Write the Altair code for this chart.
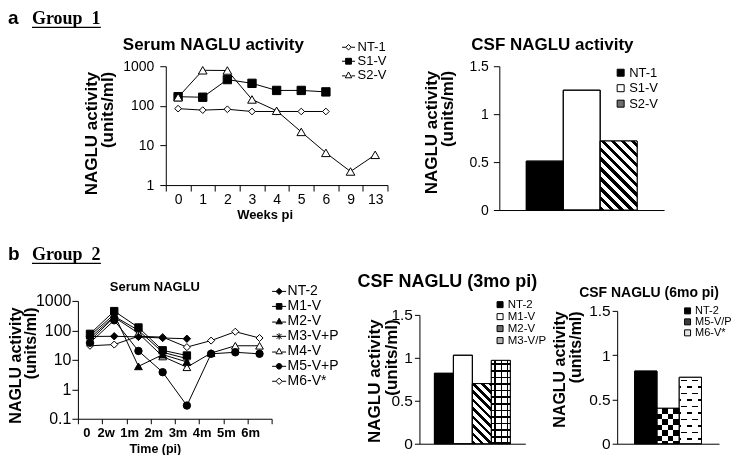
import math
import altair as alt
import pandas as pd

FONT = "Liberation Sans"
SERIF = "Liberation Serif"

# ---------------- data ----------------
weeks_a = ["0", "1", "2", "3", "4", "5", "6", "9", "13"]
series_a = ["NT-1", "S1-V", "S2-V"]
serum_nt1 = [85, 78, 82, 72, 72, 72, 72, None, None]
serum_s1v = [170, 165, 460, 370, 245, 245, 225, None, None]
serum_s2v = [165, 790, 780, 145, 75, 22, 6.5, 2.2, 5.8]

csf_a_series = ["NT-1", "S1-V", "S2-V"]
csf_a_values = [0.51, 1.25, 0.72]

times_b = ["0", "2w", "1m", "2m", "3m", "4m", "5m", "6m"]
series_b = ["NT-2", "M1-V", "M2-V", "M3-V+P", "M4-V", "M5-V+P", "M6-V*"]
serum_nt2 = [62, 63, 60, 55, 52, None, None, None]
serum_m1v = [76, 450, 125, 21, 14, None, None, None]
serum_m2v = [66, 350, 6, 15, 8.5, None, None, None]
serum_m3vp = [55, 300, 100, 18, 11, None, None, None]
serum_m4v = [45, 280, 80, 13, 5.6, 17, 30, 30]
serum_m5vp = [38, 220, 20, 3.8, 0.28, 16, 18, 16]
serum_m6v = [30, 33, 63, 59, 27, 45, 90, 55]

csf3_series = ["NT-2", "M1-V", "M2-V", "M3-V/P"]
csf3_values = [0.82, 1.03, 0.70, 0.97]
csf6_series = ["NT-2", "M5-V/P", "M6-V*"]
csf6_values = [0.82, 0.40, 0.75]


# ---------------- helpers ----------------
def long_df(xcats, names, values):
    rows = []
    for name, vals in zip(names, values):
        for i, (xc, v) in enumerate(zip(xcats, vals)):
            if v is not None:
                rows.append({"x": xc, "idx": i, "series": name, "value": v})
    return pd.DataFrame(rows)


def text_mark(txt, x, y, size, font=FONT, weight="bold", align="left", baseline="alphabetic"):
    return (alt.Chart(pd.DataFrame({"t": [txt]}))
            .mark_text(text=txt, font=font, fontSize=size, fontWeight=weight,
                       align=align, baseline=baseline, color="black")
            .encode(x=alt.value(x), y=alt.value(y)))


def underline(x1, x2, y):
    return (alt.Chart(pd.DataFrame({"t": [0]}))
            .mark_rule(color="black", strokeWidth=1.3)
            .encode(x=alt.value(x1), x2=alt.value(x2), y=alt.value(y)))


def stops(L, period, frac, dark, light, phase=0.0):
    out = []
    p = ((-phase) % period) - period
    while p < L:
        for s, e, c in ((p, p + frac * period, dark), (p + frac * period, p + period, light)):
            s2, e2 = max(s, 0.0), min(e, L)
            if e2 > s2:
                out.append({"offset": round(s2 / L, 5), "color": c})
                out.append({"offset": round(e2 / L, 5), "color": c})
        p += period
    return out


def grad(kind, w, h, period, frac, dark, light, phase=0.0):
    if kind == "h":
        L = h
        coords = dict(x1=0, y1=0, x2=0, y2=1)
    elif kind == "v":
        L = w
        coords = dict(x1=0, y1=0, x2=1, y2=0)
    else:
        L = (w + h) / math.sqrt(2)
        c = (w + h) / (w * w + h * h)
        coords = dict(x1=0, y1=1, x2=round(c * w, 5), y2=round(1 - c * h, 5))
    g = {"gradient": "linear", "stops": stops(L, period, frac, dark, light, phase)}
    g.update(coords)
    return g


def serum_panel(df, xcats, xrange, width, height, ydomain, xaxis, yaxis, styles,
                legend_series, legend_paths, legend_fills, legend, extras):
    X = alt.X("x:N", bandPosition=0.5,
              scale=alt.Scale(type="band", domain=xcats, range=xrange,
                              paddingInner=0, paddingOuter=0),
              axis=xaxis)
    Y = alt.Y("value:Q", scale=alt.Scale(type="log", domain=ydomain, nice=False), axis=yaxis)
    layers = [alt.Chart(df).mark_line(color="black", strokeWidth=1)
              .encode(x=X, y=Y, detail="series:N", order="idx:Q")]
    for name, (shape, fill, size) in styles:
        layers.append(alt.Chart(df).transform_filter(alt.datum.series == name)
                      .mark_point(shape=shape, filled=True, fill=fill, stroke="black",
                                  strokeWidth=1, size=size, opacity=1)
                      .encode(x=X, y=Y))
    n = len(legend_series)
    layers.append(alt.Chart(df).transform_filter("datum.value < 0")
                  .mark_point(filled=True, strokeWidth=1, opacity=1)
                  .encode(shape=alt.Shape("series:N", scale=alt.Scale(domain=legend_series, range=legend_paths),
                                          legend=legend),
                          fill=alt.Fill("series:N", scale=alt.Scale(domain=legend_series, range=legend_fills),
                                        legend=legend),
                          stroke=alt.Stroke("series:N", scale=alt.Scale(domain=legend_series, range=["black"] * n),
                                            legend=legend)))
    layers += extras
    return alt.layer(*layers).properties(width=width, height=height)


def bar_panel(series, values, base_fills, overlays, width, height, ytop, po, yaxis, legend, extras):
    df = pd.DataFrame({"series": series, "value": values})
    X = alt.X("series:N",
              scale=alt.Scale(type="band", domain=series, paddingInner=0, paddingOuter=po),
              axis=alt.Axis(labels=False, ticks=False, title=None))
    Y = alt.Y("value:Q", scale=alt.Scale(domain=[0, 1.5], range=[height, ytop], nice=False), axis=yaxis)
    layers = [alt.Chart(df).mark_bar(stroke="black", strokeWidth=1)
              .encode(x=X, y=Y,
                      fill=alt.Fill("series:N", scale=alt.Scale(domain=series, range=base_fills),
                                    legend=legend))]
    for name, g, blend in overlays:
        kw = dict(fill=g, strokeWidth=0)
        if blend:
            kw["blend"] = blend
        layers.append(alt.Chart(df).transform_filter(alt.datum.series == name)
                      .mark_bar(**kw).encode(x=X, y=Y))
    layers.append(alt.Chart(df).mark_bar(fillOpacity=0, stroke="black", strokeWidth=1).encode(x=X, y=Y))
    layers += extras
    return alt.layer(*layers).properties(width=width, height=height)


def y_title_axis(values, fmt, lsize, lpad, tsize, title, tsz, tx, ty, tlh):
    return alt.Axis(values=values, format=fmt, labelFontSize=lsize, labelPadding=lpad,
                    tickSize=tsize, title=title, titleFontSize=tsz, titleFontWeight="bold",
                    titleX=tx, titleY=ty, titleAlign="right", titleBaseline="top",
                    titleAngle=270, titleLineHeight=tlh, labelFlush=False,
                    labelOverlap=False, grid=False)


Y_TITLE = ["NAGLU activity", "(units/ml)"]

# ---------------- panel a : serum ----------------
df_a = long_df(weeks_a, series_a, [serum_nt1, serum_s1v, serum_s2v])
xaxis_a = alt.Axis(title="Weeks pi", labelAngle=0, labelFontSize=14, labelPadding=1, tickSize=6,
                   tickBand="extent", titleFontSize=13, titleFontWeight="bold", titleX=187,
                   titleY=33, titleBaseline="alphabetic", titleAlign="center",
                   labelFlush=False, labelOverlap=False, grid=False)
yaxis_a = y_title_axis([1, 10, 100, 1000], "~g", 14, 6, 6, Y_TITLE, 17, -82, 5, 16)
yaxis_a["offset"] = -88
styles_a = [("NT-1", ("diamond", "white", 45)),
            ("S1-V", ("square", "black", 70)),
            ("S2-V", ("triangle-up", "white", 75))]
paths_a = ["M-1,0H-0.42M0.42,0H1M-0.42,0L0,-0.42L0.42,0L0,0.42Z",
           "M-1,0H-0.45M0.45,0H1M-0.45,-0.45H0.45V0.45H-0.45Z",
           "M-1,0.1H-0.45M0.45,0.1H1M-0.5,0.4L0,-0.5L0.5,0.4Z"]
legend_a = alt.Legend(orient="none", legendX=264, legendY=-26, title=None, symbolSize=169,
                      labelFontSize=13, labelOffset=2, rowPadding=0, symbolStrokeColor="black",
                      symbolStrokeWidth=1, padding=0)
extras_a = [text_mark("Serum NAGLU activity", 45, -16, 17),
            text_mark("a", -70, -42.3, 19),
            text_mark("Group\u00a0\u00a01", -46, -42.3, 18, font=SERIF),
            underline(-46, 23, -39)]
serum_a = serum_panel(df_a, weeks_a, [88, 310], 310, 119, [1, 1000], xaxis_a, yaxis_a, styles_a,
                      series_a, paths_a, ["white", "black", "white"], legend_a, extras_a)

# ---------------- panel a : CSF ----------------
step_a = 165 / (3 + 2 * 0.73)
ov_a = [("S2-V", grad("d", step_a, 0.72 / 1.5 * 144, 7.0, 0.45, "black", "white"), None)]
legend_ca = alt.Legend(orient="none", legendX=115, legendY=0, title=None, symbolType="square",
                       symbolSize=49, labelFontSize=13, labelOffset=2, rowPadding=1.5,
                       symbolStrokeColor="black", symbolStrokeWidth=1, padding=0)
yaxis_ca = y_title_axis([0, 0.5, 1, 1.5], "~g", 14, 5, 6, Y_TITLE, 17, -76, 4, 16)
csf_a = bar_panel(csf_a_series, csf_a_values, ["black", "white", "#6e6e6e"], ov_a, 165, 144, 0, 0.73,
                  yaxis_ca, legend_ca, [text_mark("CSF NAGLU activity", -28, -16, 17)])

# ---------------- panel b : serum ----------------
df_b = long_df(times_b, series_b, [serum_nt2, serum_m1v, serum_m2v, serum_m3vp,
                                   serum_m4v, serum_m5vp, serum_m6v])
xaxis_b = alt.Axis(title="Time (pi)", labelAngle=0, labelFontSize=13, labelFontWeight="bold",
                   labelAlign="right", labelPadding=3, tickSize=5, tickBand="extent",
                   titleFontSize=12.5, titleFontWeight="bold", titleX=77, titleY=33.5,
                   titleBaseline="alphabetic", titleAlign="center",
                   labelFlush=False, labelOverlap=False, grid=False)
yaxis_b = y_title_axis([0.1, 1, 10, 100, 1000], "~g", 16, 1, 6, Y_TITLE, 16, -70, 6, 15)
AST = "M-1,0H1M0,-1V1M-0.7,-0.7L0.7,0.7M-0.7,0.7L0.7,-0.7"
styles_b = [("M6-V*", ("diamond", "white", 50)),
            ("M4-V", ("triangle-up", "white", 60)),
            ("M3-V+P", (AST, "black", 55)),
            ("M2-V", ("triangle-up", "black", 60)),
            ("M1-V", ("square", "black", 55)),
            ("M5-V+P", ("circle", "black", 55)),
            ("NT-2", ("diamond", "black", 55))]
paths_b = ["M-1,0H-0.45M0.45,0H1M-0.45,0L0,-0.45L0.45,0L0,0.45Z",
           "M-1,0H-0.4M0.4,0H1M-0.4,-0.4H0.4V0.4H-0.4Z",
           "M-1,0.1H-0.4M0.4,0.1H1M-0.45,0.35L0,-0.45L0.45,0.35Z",
           "M-1,0H1M0,-0.45V0.45M-0.35,-0.35L0.35,0.35M-0.35,0.35L0.35,-0.35",
           "M-1,0.1H-0.4M0.4,0.1H1M-0.45,0.35L0,-0.45L0.45,0.35Z",
           "M-1,0H-0.4M0.4,0H1M-0.4,0A0.4,0.4,0,1,1,0.4,0A0.4,0.4,0,1,1,-0.4,0Z",
           "M-1,0H-0.45M0.45,0H1M-0.45,0L0,-0.45L0.45,0L0,0.45Z"]
fills_b = ["black", "black", "black", "black", "white", "black", "white"]
legend_b = alt.Legend(orient="none", legendX=194, legendY=-17, title=None, symbolSize=196,
                      labelFontSize=14, labelOffset=1, rowPadding=0, symbolStrokeColor="black",
                      symbolStrokeWidth=1, padding=0)
extras_b = [text_mark("Serum NAGLU", 32, -10, 13),
            text_mark("b", -70, -41, 19),
            text_mark("Group\u00a0\u00a02", -46, -41, 18, font=SERIF),
            underline(-46, 23, -37.5)]
serum_b = serum_panel(df_b, times_b, [0, 194], 250, 118, [0.1, 1000], xaxis_b, yaxis_b, styles_b,
                      series_b, paths_b, fills_b, legend_b, extras_b)

# ---------------- panel b : CSF 3 months ----------------
H_B = 143
po3 = 0.79
w3 = 106 / (4 + 2 * po3)
k3 = (H_B - 14) / 1.5
ov_3 = [("M2-V", grad("d", w3, 0.70 * k3, 6.0, 0.45, "black", "white"), None),
        ("M3-V/P", grad("h", w3, 0.97 * k3, 6.6, 0.25, "black", "white", phase=-3), None),
        ("M3-V/P", grad("v", w3, 0.97 * k3, 6.3, 0.25, "black", "rgba(255,255,255,0)", phase=-3), None)]
legend_3 = alt.Legend(orient="none", legendX=75, legendY=-2, title=None, symbolType="square",
                      symbolSize=36, labelFontSize=11.5, labelOffset=2, rowPadding=-2,
                      symbolStrokeColor="black", symbolStrokeWidth=1, padding=0)
yaxis_3 = y_title_axis([0, 0.5, 1, 1.5], "~g", 15.5, 2, 5, Y_TITLE, 17, -53, 18, 17)
csf3 = bar_panel(csf3_series, csf3_values, ["black", "white", "#6e6e6e", "#b4b4b4"], ov_3, 106, H_B, 14,
                 po3, yaxis_3, legend_3, [text_mark("CSF NAGLU (3mo pi)", -62, -14, 18)])

# ---------------- panel b : CSF 6 months ----------------
po6 = 0.787
w6 = 102 / (3 + 2 * po6)
k6 = (H_B - 10) / 1.5
h5 = 0.40 * k6
h6 = 0.75 * k6
ov_6 = [("M5-V/P", grad("h", w6, h5, 11.0, 0.5, "black", "white"), None),
        ("M5-V/P", grad("v", w6, h5, 11.0, 0.5, "white", "black"), "difference"),
        # staggered dashes: checker mask, multiplied by thin lines, then inverted
        ("M6-V*", grad("h", w6, h6, 13.0, 0.5, "black", "white"), None),
        ("M6-V*", grad("v", w6, h6, 11.0, 0.5, "white", "black", phase=-2), "difference"),
        ("M6-V*", grad("h", w6, h6, 6.5, 0.24, "white", "black", phase=-2.5), "multiply"),
        ("M6-V*", "white", "difference")]
legend_6 = alt.Legend(orient="none", legendX=65, legendY=4.5, title=None, symbolType="square",
                      symbolSize=36, labelFontSize=11, labelOffset=2, rowPadding=-1,
                      symbolStrokeColor="black", symbolStrokeWidth=1, padding=0)
yaxis_6 = y_title_axis([0, 0.5, 1, 1.5], "~g", 15.5, 2, 5, Y_TITLE, 16, -66, 10, 16)
csf6 = bar_panel(csf6_series, csf6_values, ["black", "#3c3c3c", "#e6e6e6"], ov_6, 102, H_B, 10,
                 po6, yaxis_6, legend_6, [text_mark("CSF NAGLU (6mo pi)", -38, -4, 14)])

# ---------------- layout ----------------
row_a = alt.hconcat(serum_a, csf_a, spacing=112, bounds="flush").resolve_scale(
    fill="independent", shape="independent", stroke="independent")
row_b = alt.hconcat(serum_b, csf3, csf6, spacing=92, bounds="flush").resolve_scale(
    fill="independent", shape="independent", stroke="independent")

chart = (alt.vconcat(row_a, row_b, spacing=235, bounds="flush")
         .resolve_scale(fill="independent", shape="independent", stroke="independent")
         .properties(padding={"left": 0, "top": 0, "right": 0, "bottom": 0}, background="white")
         .configure(font=FONT)
         .configure_view(stroke=None)
         .configure_axis(labelFont=FONT, titleFont=FONT, labelColor="black", titleColor="black",
                         domainColor="black", tickColor="black", domainWidth=1, tickWidth=1, grid=False)
         .configure_legend(labelFont=FONT, labelColor="black"))

chart.save("out.html", embed_options={"renderer": "svg", "actions": False})
